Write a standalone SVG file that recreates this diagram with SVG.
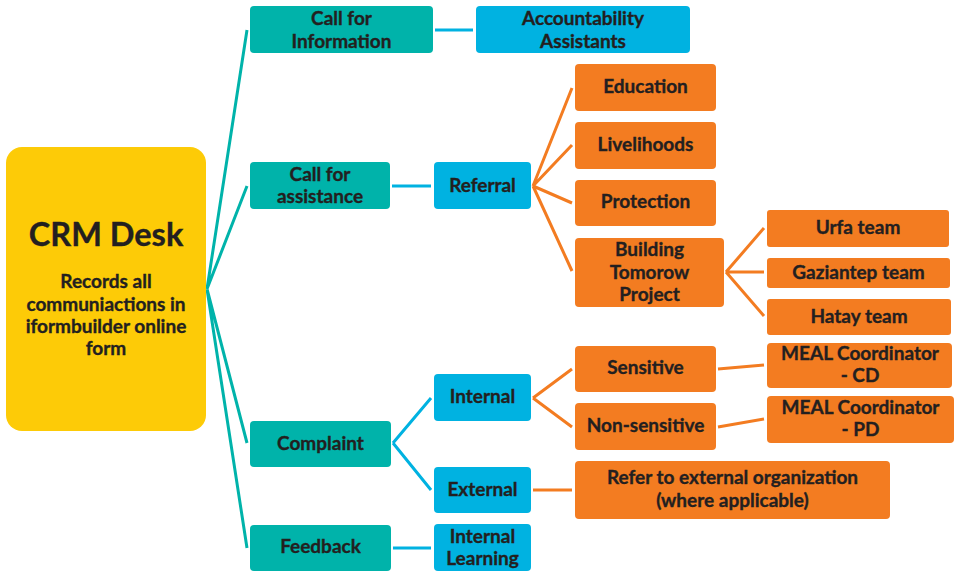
<svg xmlns="http://www.w3.org/2000/svg" width="960" height="571" viewBox="0 0 960 571">
<style>
.t{font-family:Lato,"Open Sans","Liberation Sans",sans-serif;font-weight:bold;fill:#231F20;stroke:#231F20;stroke-width:0.35;text-anchor:middle;font-size:19px}
.teal{fill:#00B3AA}
.blue{fill:#00B2E1}
.orange{fill:#F37C21}
.lt{stroke:#00B3AA;stroke-width:3;fill:none}
.lb{stroke:#00B2E1;stroke-width:3;fill:none}
.lo{stroke:#F37C21;stroke-width:3;fill:none}
</style>
<rect width="960" height="571" fill="#fff"/>
<g id="connectors">
<path class="lt" d="M207 289L247 30M207 289L247 186M207 289L247 443M207 289L247 548"/>
<path class="lb" d="M435 30H473M392 186H431M393 443L431 398M393 443L431 490M393 548H431"/>
<path class="lo" d="M533 186L572 88M533 186L572 145M533 186L572 203M533 186L572 271"/>
<path class="lo" d="M726 272L764 228M726 272H764M726 272L764 316"/>
<path class="lo" d="M533 398L572 369M533 398L572 427"/>
<path class="lo" d="M718 369L764 365M718 427L764 419M533 490H572"/>
</g>
<g id="crm-desk">
<rect x="6" y="147" width="200" height="284" rx="16" fill="#FDCB07"/>
<text class="t" x="106" y="246" style="font-size:32.5px">CRM Desk</text>
<text class="t" x="106" y="288" style="font-size:19px">Records all</text>
<text class="t" x="106" y="311" style="font-size:19px">communiactions in</text>
<text class="t" x="106" y="333" style="font-size:19px">iformbuilder online</text>
<text class="t" x="106" y="355" style="font-size:19px">form</text>
</g>
<g id="call-info">
<rect class="teal" x="250" y="6" width="183" height="47" rx="4"/>
<text class="t" x="341.5" y="25">Call for</text>
<text class="t" x="341.5" y="48">Information</text>
</g>
<g id="accountability">
<rect class="blue" x="476" y="6" width="214" height="47" rx="4"/>
<text class="t" x="583" y="25">Accountability</text>
<text class="t" x="583" y="48">Assistants</text>
</g>
<g id="call-assistance">
<rect class="teal" x="250" y="162" width="140" height="47" rx="4"/>
<text class="t" x="320" y="181">Call for</text>
<text class="t" x="320" y="203">assistance</text>
</g>
<g id="referral">
<rect class="blue" x="434" y="162" width="97" height="47" rx="4"/>
<text class="t" x="482.5" y="192">Referral</text>
</g>
<g id="education">
<rect class="orange" x="575" y="64" width="141" height="47" rx="4"/>
<text class="t" x="645.5" y="93">Education</text>
</g>
<g id="livelihoods">
<rect class="orange" x="575" y="122" width="141" height="47" rx="4"/>
<text class="t" x="645.5" y="151">Livelihoods</text>
</g>
<g id="protection">
<rect class="orange" x="575" y="180" width="141" height="46" rx="4"/>
<text class="t" x="645.5" y="208">Protection</text>
</g>
<g id="building">
<rect class="orange" x="575" y="238" width="149" height="69" rx="4"/>
<text class="t" x="649.5" y="256">Building</text>
<text class="t" x="649.5" y="279">Tomorow</text>
<text class="t" x="649.5" y="301">Project</text>
</g>
<g id="urfa">
<rect class="orange" x="767" y="210" width="182" height="37" rx="3"/>
<text class="t" x="858" y="234">Urfa team</text>
</g>
<g id="gaziantep">
<rect class="orange" x="767" y="258" width="183" height="30" rx="3"/>
<text class="t" x="858.5" y="279">Gaziantep team</text>
</g>
<g id="hatay">
<rect class="orange" x="767" y="299" width="184" height="36" rx="3"/>
<text class="t" x="859" y="323">Hatay team</text>
</g>
<g id="complaint">
<rect class="teal" x="250" y="421" width="141" height="46" rx="4"/>
<text class="t" x="320.5" y="450">Complaint</text>
</g>
<g id="internal">
<rect class="blue" x="434" y="374" width="97" height="47" rx="4"/>
<text class="t" x="482.5" y="403">Internal</text>
</g>
<g id="sensitive">
<rect class="orange" x="575" y="346" width="141" height="46" rx="4"/>
<text class="t" x="645.5" y="374">Sensitive</text>
</g>
<g id="non-sensitive">
<rect class="orange" x="575" y="403" width="141" height="47" rx="4"/>
<text class="t" x="645.5" y="432">Non-sensitive</text>
</g>
<g id="meal-cd">
<rect class="orange" x="767" y="343" width="185" height="45" rx="4"/>
<text class="t" x="860" y="360">MEAL Coordinator</text>
<text class="t" x="860" y="382">- CD</text>
</g>
<g id="meal-pd">
<rect class="orange" x="767" y="396" width="187" height="47" rx="4"/>
<text class="t" x="860.5" y="414">MEAL Coordinator</text>
<text class="t" x="860.5" y="436">- PD</text>
</g>
<g id="external">
<rect class="blue" x="434" y="467" width="97" height="46" rx="4"/>
<text class="t" x="482.5" y="496">External</text>
</g>
<g id="refer-external">
<rect class="orange" x="575" y="461" width="315" height="58" rx="4"/>
<text class="t" x="732.5" y="484">Refer to external organization</text>
<text class="t" x="732.5" y="507">(where applicable)</text>
</g>
<g id="feedback">
<rect class="teal" x="250" y="525" width="141" height="46" rx="4"/>
<text class="t" x="320.5" y="553">Feedback</text>
</g>
<g id="internal-learning">
<rect class="blue" x="434" y="524" width="97" height="47" rx="4"/>
<text class="t" x="482.5" y="543">Internal</text>
<text class="t" x="482.5" y="565">Learning</text>
</g>
</svg>
